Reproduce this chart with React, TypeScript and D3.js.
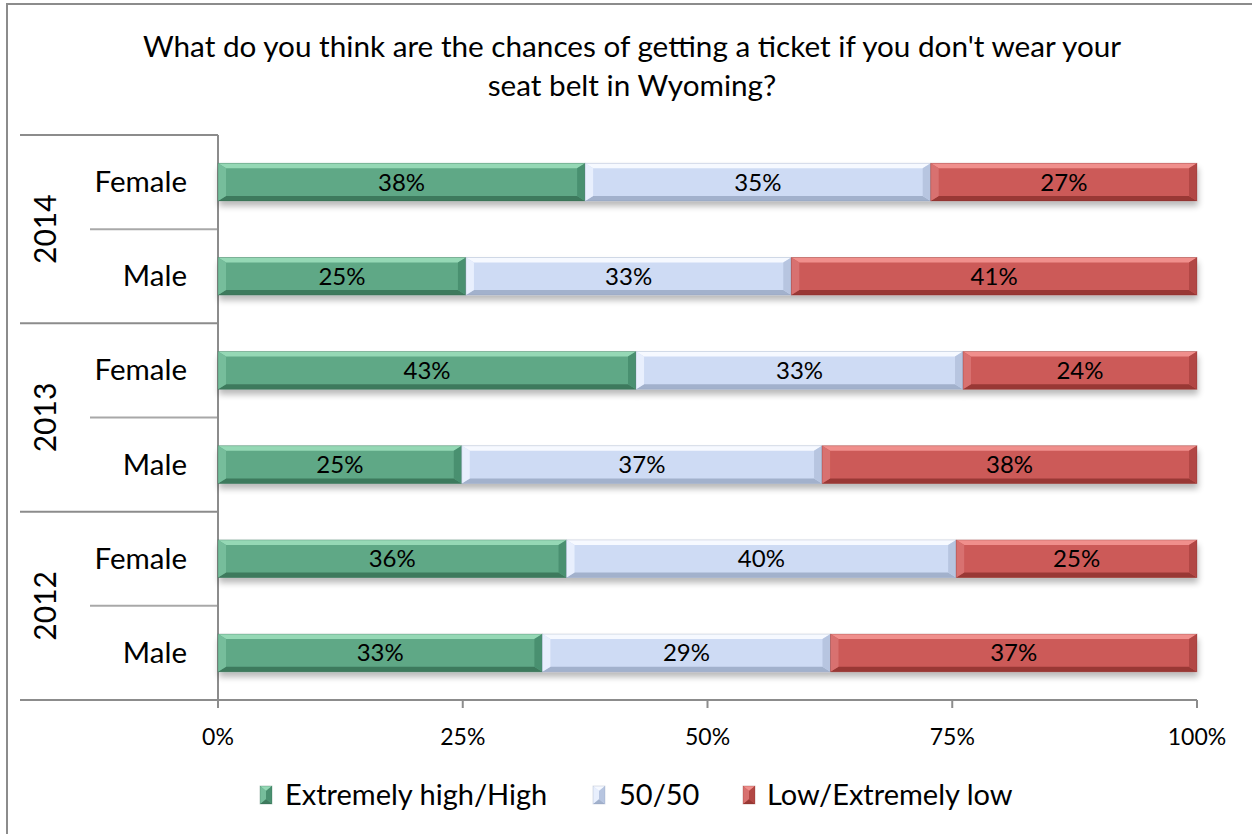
import React from "react";
import * as d3 from "d3";

const titleLines = [
  "What do you think are the chances of getting a ticket if you don't wear your",
  "seat belt in Wyoming?",
];
const years = ["2014", "2013", "2012"];
const genders = ["Female", "Male"];
const seriesNames = ["Extremely high/High", "50/50", "Low/Extremely low"];
// values per row (year, gender) in order of series
const highValues = [37.5, 25.3, 42.7, 24.9, 35.6, 33.1];
const fiftyValues = [35.3, 33.2, 33.4, 36.8, 39.8, 29.4];
const lowValues = [27.2, 41.4, 23.9, 38.3, 24.6, 37.4];
const xTicks = [0, 25, 50, 75, 100];

const palettes = [
  { main: "#5fa886", top: "#95d8b5", bottom: "#3e7a5d", left: "#76bd9b", right: "#4a9070", shadow: "#2e5e48" },
  { main: "#cedbf4", top: "#f6f9ff", bottom: "#a2b1cc", left: "#e8effd", right: "#b7c5e0", shadow: "#8796b0" },
  { main: "#cc5a58", top: "#f08f8c", bottom: "#993835", left: "#d8716f", right: "#b24744", shadow: "#7a2a28" },
];

const FONT = "Lato, 'Open Sans', sans-serif";

function BevelRect({ x, y, w, h, pal, b, bv }: any) {
  const bx = Math.min(b, w / 2);
  const by = Math.min(bv, h / 2);
  const x2 = x + w, y2 = y + h;
  const pts = (arr: number[][]) => arr.map((p) => p.join(",")).join(" ");
  return (
    <g>
      <rect x={x} y={y} width={w} height={h} fill={pal.main} />
      <polygon points={pts([[x, y], [x2, y], [x2 - bx, y + by], [x + bx, y + by]])} fill={pal.top} />
      <polygon points={pts([[x, y2], [x2, y2], [x2 - bx, y2 - by], [x + bx, y2 - by]])} fill={pal.bottom} />
      <polygon points={pts([[x, y], [x + bx, y + by], [x + bx, y2 - by], [x, y2]])} fill={pal.left} />
      <polygon points={pts([[x2, y], [x2 - bx, y + by], [x2 - bx, y2 - by], [x2, y2]])} fill={pal.right} />
      <rect x={x} y={y} width={w} height={h} fill="none" stroke={pal.shadow} strokeOpacity={0.35} strokeWidth={0.8} />
    </g>
  );
}

export default function App() {
  const W = 1252, H = 834;
  const left = 218, right = 1197, top = 135, bottom = 700;
  const rows: string[] = [];
  years.forEach((yr) => genders.forEach((g) => rows.push(yr + "|" + g)));
  const x = d3.scaleLinear().domain([0, 100]).range([left, right]);
  const y = d3.scaleBand<string>().domain(rows).range([top, bottom]).paddingInner(0.6).paddingOuter(0.3);
  const step = y.step();
  const allSeries = [highValues, fiftyValues, lowValues];
  const data = rows.map((r, i) => {
    const vals = allSeries.map((s) => s[i]);
    const total = d3.sum(vals);
    let acc = 0;
    return vals.map((v, k) => {
      const x0 = (acc / total) * 100;
      acc += v;
      const x1 = (acc / total) * 100;
      return { row: r, k, v, x0, x1 };
    });
  });
  const gray = "#8c8c8c";
  const legendItems = [
    { sx: 260, tx: 285 },
    { sx: 593, tx: 619 },
    { sx: 743, tx: 767 },
  ];
  return (
    <svg width={W} height={H} style={{ position: "absolute", left: 0, top: 0, background: "#fff" }} fontFamily={FONT}>
      <defs>
        <filter id="sh" x="-5%" y="-40%" width="110%" height="200%">
          <feGaussianBlur in="SourceAlpha" stdDeviation="3" />
          <feOffset dx="1" dy="5" result="ob" />
          <feComponentTransfer>
            <feFuncA type="linear" slope="0.28" />
          </feComponentTransfer>
          <feMerge>
            <feMergeNode />
            <feMergeNode in="SourceGraphic" />
          </feMerge>
        </filter>
      </defs>
      <rect x={0} y={0} width={W} height={H} fill="#fff" />
      {/* outer frame */}
      <rect x={7} y={4} width={W + 20} height={H + 20} fill="none" stroke={gray} strokeWidth={2} />
      {/* title */}
      {titleLines.map((t, i) => (
        <text key={i} x={632} y={57 + i * 39} textAnchor="middle" fontSize={29.7} fill="#000">
          {t}
        </text>
      ))}
      {/* category separators */}
      {d3.range(rows.length + 1).map((i) => {
        const yy = top + i * step;
        const isYear = i % 2 === 0;
        return (
          <line key={"sep" + i} x1={isYear ? 20 : 90} x2={left} y1={yy} y2={yy} stroke={gray} strokeWidth={2} opacity={isYear ? 1 : 0.75} />
        );
      })}
      <line x1={20} x2={right} y1={bottom} y2={bottom} stroke={gray} strokeWidth={2} />
      <line x1={left} x2={left} y1={top} y2={bottom + 8} stroke={gray} strokeWidth={2} />
      {xTicks.map((t) => (
        <g key={"t" + t}>
          <line x1={x(t)} x2={x(t)} y1={bottom} y2={bottom + 8} stroke={gray} strokeWidth={2} />
          <text x={x(t)} y={745} textAnchor="middle" fontSize={23} fill="#000">
            {t}%
          </text>
        </g>
      ))}
      {/* labels */}
      {years.map((yr, i) => {
        const cy = top + (i * 2 + 1) * step;
        return (
          <text key={yr} transform={`translate(56,${cy}) rotate(-90)`} textAnchor="middle" fontSize={30} fill="#000">
            {yr}
          </text>
        );
      })}
      {rows.map((r) => (
        <text key={"g" + r} x={187} y={(y(r) as number) + y.bandwidth() / 2 + 10} textAnchor="end" fontSize={29.5} fill="#000">
          {r.split("|")[1]}
        </text>
      ))}
      {/* bars */}
      {data.map((segs, i) => (
        <g key={"row" + i} filter="url(#sh)">
          {segs.map((s) => (
            <BevelRect key={s.k} x={x(s.x0)} y={y(s.row) as number} w={x(s.x1) - x(s.x0)} h={y.bandwidth()} pal={palettes[s.k]} b={8} bv={5} />
          ))}
        </g>
      ))}
      {data.map((segs, i) =>
        segs.map((s) => (
          <text key={"l" + i + s.k} x={(x(s.x0) + x(s.x1)) / 2} y={(y(s.row) as number) + y.bandwidth() / 2 + 8.5} textAnchor="middle" fontSize={24} fill="#000">
            {Math.round(s.v)}%
          </text>
        ))
      )}
      {/* legend */}
      {seriesNames.map((n, k) => (
        <g key={"lg" + k}>
          <BevelRect x={legendItems[k].sx} y={786} w={12} h={18} pal={palettes[k]} b={6} bv={5} />
          <text x={legendItems[k].tx} y={805} fontSize={29} fill="#000">
            {n}
          </text>
        </g>
      ))}
    </svg>
  );
}
